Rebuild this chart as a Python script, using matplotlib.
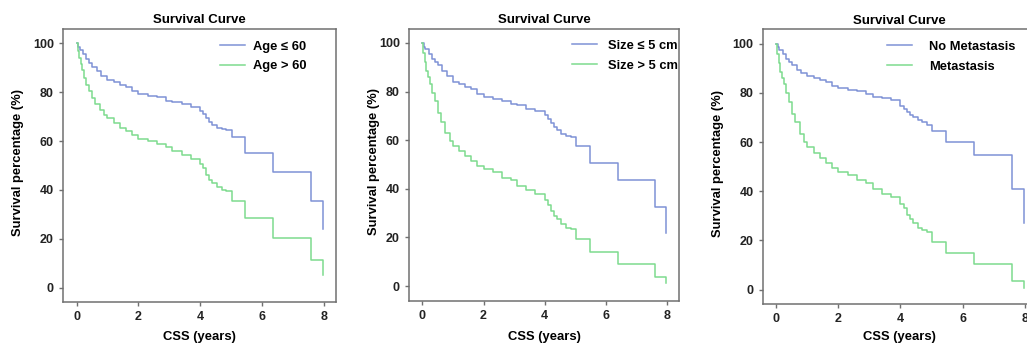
import matplotlib
matplotlib.use("Agg")
import matplotlib.pyplot as plt

plt.rcParams['font.family'] = ['Liberation Sans', 'DejaVu Sans']
plt.rcParams['font.weight'] = 'bold'

# === Данные ===
t_age_low = [0, 0.05, 0.1, 0.2, 0.3, 0.4, 0.5, 0.65, 0.8, 1.0, 1.2, 1.4, 1.6, 1.8, 2.0, 2.3, 2.6, 2.9,
             3.1, 3.4, 3.7, 4.0, 4.1, 4.2, 4.3, 4.4, 4.55, 4.7, 4.85, 5.03, 5.46, 6.36, 7.60, 7.99]
s_age_low = [100, 98.5, 97.3, 95.5, 93.5, 92, 90.4, 88.5, 86.8, 85, 84, 83, 82, 80.5, 79.1, 78.5, 77.9, 76.5,
             76, 75, 74, 72.5, 71, 69.3, 68, 66.5, 65.5, 65, 64.5, 61.7, 55.3, 47.4, 35.4, 23.8]
t_age_high = [0, 0.03, 0.08, 0.13, 0.18, 0.25, 0.32, 0.4, 0.5, 0.6, 0.75, 0.9, 1.0, 1.2, 1.4, 1.6, 1.8, 2.0,
              2.3, 2.6, 2.9, 3.1, 3.4, 3.7, 4.0, 4.1, 4.2, 4.3, 4.4, 4.55, 4.7, 4.85, 5.03, 5.46, 6.36, 7.60, 7.99]
s_age_high = [100, 97, 94, 91.5, 89, 86, 83, 80.5, 77.5, 75, 72.7, 70.5, 69.3, 67.5, 65.5, 64, 62.5, 61,
              60.2, 59, 57.5, 56, 54.5, 52.5, 50.8, 49, 46, 44, 42.9, 41, 40, 39.6, 35.5, 28.7, 20.5, 11.2, 5]

t_size_low = [0, 0.05, 0.1, 0.2, 0.3, 0.4, 0.5, 0.65, 0.8, 1.0, 1.2, 1.4, 1.6, 1.8, 2.0, 2.3, 2.6, 2.9,
              3.1, 3.4, 3.7, 4.0, 4.1, 4.2, 4.3, 4.4, 4.55, 4.7, 4.85, 5.04, 5.48, 6.39, 7.63, 7.99]
s_size_low = [100, 98.5, 97.5, 95.5, 93.5, 92, 90.7, 88.5, 86.5, 84, 83, 82, 81, 79, 77.8, 77, 76, 75,
              74.4, 73, 72, 70.3, 68.5, 67, 65.5, 64.2, 62.5, 61.8, 61.2, 57.4, 50.8, 43.6, 32.6, 22]
t_size_high = [0, 0.03, 0.08, 0.13, 0.18, 0.25, 0.32, 0.4, 0.5, 0.6, 0.75, 0.9, 1.0, 1.2, 1.4, 1.6, 1.8, 2.0,
               2.3, 2.6, 2.9, 3.1, 3.4, 3.7, 4.0, 4.1, 4.2, 4.3, 4.4, 4.55, 4.7, 4.85, 5.04, 5.48, 6.39, 7.63, 7.99]
s_size_high = [100, 96, 92, 88.5, 86, 83, 79.5, 76, 71, 67.5, 63, 59.5, 57.4, 55.5, 53.5, 51.5, 49.5, 48,
               46.8, 44.5, 43.5, 41, 39.5, 38, 35.6, 33.5, 31, 29, 27.5, 25.5, 24.1, 23.4, 19.4, 13.9, 8.9, 3.8, 1.4]

t_met_no = [0, 0.05, 0.1, 0.2, 0.3, 0.4, 0.5, 0.65, 0.8, 1.0, 1.2, 1.4, 1.6, 1.8, 2.0, 2.3, 2.6, 2.9,
            3.1, 3.4, 3.7, 4.0, 4.1, 4.2, 4.3, 4.4, 4.55, 4.7, 4.85, 5.02, 5.47, 6.37, 7.61, 7.99]
s_met_no = [100, 98.5, 97.5, 96, 94, 92.5, 91.4, 89.5, 88.2, 86.9, 86, 85.2, 84.5, 83, 82, 81.3, 80.6, 79.5,
            78.2, 77.8, 77.1, 74.8, 73.5, 72.2, 71, 70.1, 69, 68.1, 67.1, 64.7, 60, 54.6, 40.8, 27.2]
t_met_yes = [0, 0.03, 0.08, 0.13, 0.18, 0.25, 0.32, 0.4, 0.5, 0.6, 0.75, 0.9, 1.0, 1.2, 1.4, 1.6, 1.8, 2.0,
             2.3, 2.6, 2.9, 3.1, 3.4, 3.7, 4.0, 4.1, 4.2, 4.3, 4.4, 4.55, 4.7, 4.85, 5.02, 5.47, 6.37, 7.61, 7.99]
s_met_yes = [100, 96, 92, 88.5, 86, 83.5, 80, 76.5, 71.4, 68, 63.3, 60, 58, 55.5, 53.5, 51.5, 49.5, 47.8,
             46.5, 44.5, 43.5, 41, 39, 37.6, 35, 33, 30.3, 28.5, 27, 25, 24.3, 23.2, 19.5, 14.8, 10.4, 3.4, 0.7]

labels_age = ['Age ≤ 60', 'Age > 60']
labels_size = ['Size ≤ 5 cm', 'Size > 5 cm']
labels_met = ['No Metastasis', 'Metastasis']

BLUE = '#7f92d6'
GREEN = '#7ddb8e'
SPINE = '#707070'

fig = plt.figure(figsize=(10.27, 3.44), dpi=100)
W, H = 1027, 344

# (left, right, top, bottom) в пикселях, позиция легенды, отступ текста, центр подписи оси Y (px)
panels = [
    ((63, 336, 29, 302), (t_age_low, s_age_low, t_age_high, s_age_high), labels_age, 0.575, 0.62, 18),
    ((409, 679, 28.5, 300.5), (t_size_low, s_size_low, t_size_high, s_size_high), labels_size, 0.604, 0.83, 373),
    ((762.7, 1037, 29.3, 304), (t_met_no, s_met_no, t_met_yes, s_met_yes), labels_met, 0.454, 1.32, 718),
]

for (l, r, t, b), (t1, s1, t2, s2), labels, leg_x, pad, ylab_px in panels:
    ax = fig.add_axes([l / W, (H - b) / H, (r - l) / W, (b - t) / H])
    ax.step(t1, s1, where='post', color=BLUE, lw=1.1, label=labels[0])
    ax.step(t2, s2, where='post', color=GREEN, lw=1.1, label=labels[1])
    ax.set_xlim(-0.44, 8.4)
    ax.set_ylim(-5.9, 105.9)
    ax.set_xticks([0, 2, 4, 6, 8])
    ax.set_yticks([0, 20, 40, 60, 80, 100])
    for sp in ax.spines.values():
        sp.set_color(SPINE)
        sp.set_linewidth(1.1)
    ax.tick_params(direction='out', length=3, width=1, color=SPINE, labelsize=9,
                   labelcolor='#222222', pad=3.5)
    ax.set_title('Survival Curve', fontsize=9.5, fontweight='bold', pad=4)
    ax.set_xlabel('CSS (years)', fontsize=9.4, fontweight='bold')
    ax.set_ylabel('Survival percentage (%)', fontsize=9.4, fontweight='bold')
    ax.xaxis.set_label_coords(0.5, (b - 331) / (b - t))
    ax.yaxis.set_label_coords((ylab_px + 6.5 - l) / (r - l), 0.51)
    ax.legend(loc='upper left', bbox_to_anchor=(leg_x, 0.958), frameon=False,
              fontsize=9.3, handlelength=1.94, handletextpad=pad, borderpad=0,
              borderaxespad=0, labelspacing=0.6)

fig.savefig('out.png', dpi=100)
